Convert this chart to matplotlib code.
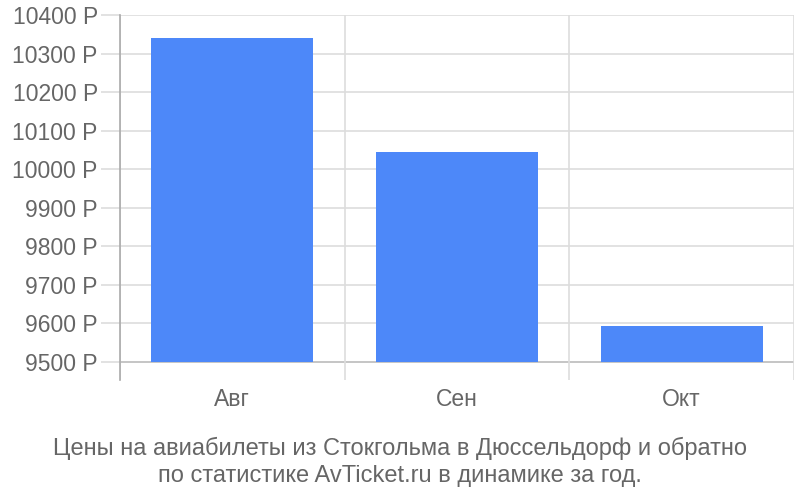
import matplotlib.pyplot as plt
import numpy as np

# data
months = ["Авг", "Сен", "Окт"]
prices = [10340, 10043, 9593]
y_ticks = [9500, 9600, 9700, 9800, 9900, 10000, 10100, 10200, 10300, 10400]
title_lines = ["Цены на авиабилеты из Стокгольма в Дюссельдорф и обратно",
               "по статистике AvTicket.ru в динамике за год."]

plt.rcParams['font.family'] = ['Liberation Sans', 'DejaVu Sans']
text_color = '#666666'

fig = plt.figure(figsize=(8, 5), dpi=100)
ax = fig.add_axes([0.15, 0.24, 0.8425, 0.73])

x = np.arange(len(months))
base = y_ticks[0]
ax.bar(x, np.array(prices) - base, bottom=base, width=0.72, color='#4d88f9', zorder=3)

ax.set_xlim(-0.5, len(months) - 0.5)
ax.set_ylim(9452, 10400)

# horizontal grid + tick marks sticking out left
ax.set_yticks(y_ticks)
ax.set_yticklabels([f"{v} Р" for v in y_ticks])
for v in y_ticks:
    ax.axhline(v, color='#bbbbbb' if v == base else '#dddddd', lw=1.2, zorder=1)
ax.tick_params(axis='y', length=14, width=1.2, color='#dddddd', pad=2,
               labelsize=16.5, labelcolor=text_color)

# vertical separators between categories
ax.set_xticks(x)
ax.set_xticklabels(months)
ax.set_xticks(np.arange(-0.5, len(months)), minor=True)
ax.grid(axis='x', which='minor', color='#dddddd', lw=1.2, zorder=1)
ax.tick_params(axis='x', which='major', length=0, pad=6, labelsize=16.5, labelcolor=text_color)
ax.tick_params(axis='x', which='minor', length=0)

for side in ['top', 'right', 'bottom']:
    ax.spines[side].set_visible(False)
ax.spines['left'].set_color('#aaaaaa')
ax.spines['left'].set_linewidth(1.2)

fig.text(0.5, 0.104, title_lines[0], ha='center', va='center', fontsize=17, color=text_color)
fig.text(0.5, 0.048, title_lines[1], ha='center', va='center', fontsize=17, color=text_color)

fig.savefig('out.png', dpi=100)
